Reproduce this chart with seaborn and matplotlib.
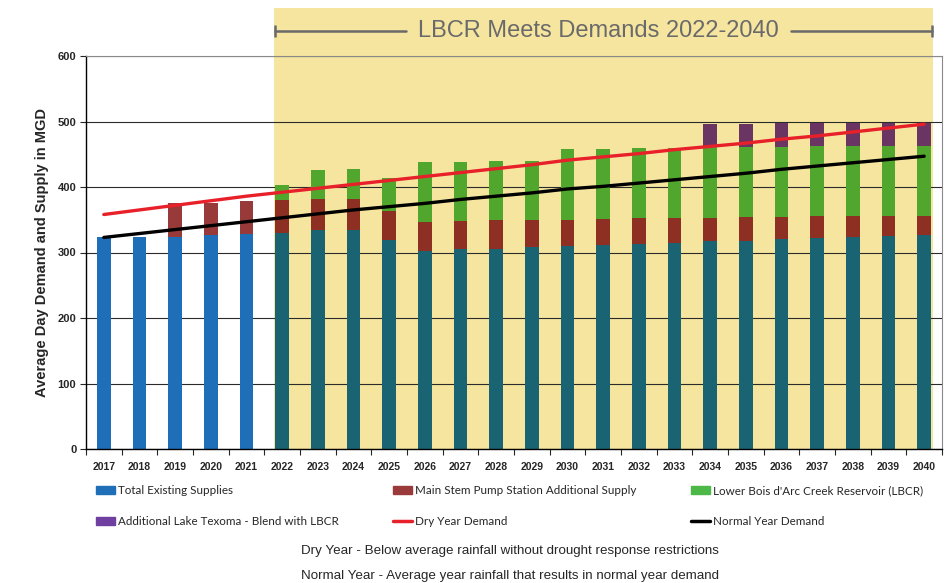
import numpy as np
import pandas as pd
import matplotlib.pyplot as plt
import seaborn as sns
from matplotlib.patches import Patch
from matplotlib.lines import Line2D

# Data (MGD)
years = [str(y) for y in range(2017, 2041)]
existing = [324, 324, 324, 326, 328, 330, 335, 334, 319, 303, 305, 306,
            308, 310, 312, 313, 315, 317, 318, 320, 322, 323, 325, 326]
main_stem = [0, 0, 51, 50, 50, 50, 46, 48, 45, 44, 43, 43,
             42, 40, 39, 39, 37, 36, 36, 34, 33, 32, 31, 30]
lbcr = [0, 0, 0, 0, 0, 23, 45, 45, 49, 91, 90, 90,
        90, 108, 107, 107, 108, 108, 107, 107, 107, 107, 107, 107]
texoma = [0, 0, 0, 0, 0, 0, 0, 0, 0, 0, 0, 0,
          0, 0, 0, 0, 0, 35, 35, 36, 35, 35, 35, 35]
dry_demand = [358, 365, 372, 379, 386, 392, 398, 404, 410, 416, 422, 428,
              434, 441, 446, 451, 457, 462, 467, 473, 478, 484, 490, 496]
normal_demand = [323, 329, 335, 341, 347, 353, 359, 365, 370, 375, 381, 386,
                 391, 397, 401, 406, 411, 416, 421, 427, 432, 437, 442, 447]

df = pd.DataFrame({"year": years, "existing": existing, "main_stem": main_stem,
                   "lbcr": lbcr, "texoma": texoma,
                   "dry": dry_demand, "normal": normal_demand})
df["t1"] = df["existing"]
df["t2"] = df["t1"] + df["main_stem"]
df["t3"] = df["t2"] + df["lbcr"]
df["t4"] = df["t3"] + df["texoma"]

lbcr_start = years.index("2022")
blue, teal = "#1F6FB8", "#1A6373"
red_early, red_late = "#983A3A", "#8E2F24"
green, purple = "#51A72D", "#6A3562"
shade = "#F6E59F"

sns.set_style("white")
plt.rcParams["font.family"] = ["Liberation Sans", "DejaVu Sans"]

fig = plt.figure(figsize=(9.5, 5.83), dpi=100)
ax = fig.add_axes([86 / 950, 1 - 449 / 583, (942 - 86) / 950, (449 - 56) / 583])

# shaded LBCR period, reaching above the plot area
ax.axvspan(4.78, 23.26, ymin=0, ymax=(449 - 8) / 393, color=shade,
           zorder=0.2, clip_on=False, lw=0)

# stacked bars: draw cumulative totals tallest first
w = 0.39
pal_existing = [blue if i < lbcr_start else teal for i in range(len(years))]
pal_main = [red_early if i < lbcr_start else red_late for i in range(len(years))]
bar_kw = dict(width=w, ax=ax, saturation=1, linewidth=0, zorder=2)
sns.barplot(data=df, x="year", y="t4", color=purple, **bar_kw)
sns.barplot(data=df, x="year", y="t3", color=green, **bar_kw)
sns.barplot(data=df, x="year", y="t2", hue="year", palette=pal_main,
            legend=False, **bar_kw)
sns.barplot(data=df, x="year", y="t1", hue="year", palette=pal_existing,
            legend=False, **bar_kw)

x = np.arange(len(years))
sns.lineplot(x=x, y=df["dry"], color="#E8202A", lw=2.4, ax=ax, zorder=4)
sns.lineplot(x=x, y=df["normal"], color="black", lw=2.4, ax=ax, zorder=4)

ax.set_xlim(-0.5, 23.5)
ax.set_ylim(0, 600)
ax.set_yticks(range(0, 601, 100))
ax.set_axisbelow(True)
ax.yaxis.grid(True, color="#2b2b2b", lw=0.8, zorder=0.5)
ax.set_xticks(x)
ax.set_xticklabels(years, fontsize=7.5, fontweight="bold")
ax.set_xticks(np.arange(-0.5, 24, 1), minor=True)
ax.tick_params(axis="x", which="major", length=0, pad=9)
ax.tick_params(axis="x", which="minor", length=4, width=0.8, direction="out", bottom=True)
ax.tick_params(axis="y", length=4, width=0.8, direction="out", left=True, pad=3)
for lab in ax.get_yticklabels():
    lab.set_fontsize(8)
    lab.set_fontweight("bold")
ax.set_xlabel("")
ax.set_ylabel("Average Day Demand and Supply in MGD", fontsize=10.5,
              fontweight="bold", labelpad=6)
for s in ["left", "bottom"]:
    ax.spines[s].set_color("black")
    ax.spines[s].set_linewidth(1.0)
for s in ["top", "right"]:
    ax.spines[s].set_color("#8a8a8a")
    ax.spines[s].set_linewidth(0.8)

# banner
tr = ax.get_xaxis_transform()
yb = (449 - 31) / 393
ax.plot([4.80, 8.46], [yb, yb], color="#6a6a6a", lw=1.8, transform=tr, clip_on=False)
ax.plot([19.27, 23.22], [yb, yb], color="#6a6a6a", lw=1.8, transform=tr, clip_on=False)
ax.plot([4.80, 23.22], [yb, yb], ls="none", marker="|", ms=9, mew=1.8,
        color="#6a6a6a", transform=tr, clip_on=False)
ax.text(13.87, yb, "LBCR Meets Demands 2022-2040", transform=tr, ha="center",
        va="center", fontsize=17, color="#6a6a6a")

# legend, three columns placed by hand
cols = [
    (96 / 950, [Patch(color=blue), Patch(color="#7040A0")],
     ["Total Existing Supplies", "Additional Lake Texoma - Blend with LBCR"]),
    (393 / 950, [Patch(color="#9B3A3A"), Line2D([], [], color="#E8202A", lw=2.5)],
     ["Main Stem Pump Station Additional Supply", "Dry Year Demand"]),
    (691 / 950, [Patch(color="#4CB848"), Line2D([], [], color="black", lw=2.5)],
     ["Lower Bois d'Arc Creek Reservoir (LBCR)", "Normal Year Demand"]),
]
for xpos, handles, labels in cols:
    fig.legend(handles, labels, loc="upper left", bbox_to_anchor=(xpos, 1 - 485 / 583),
               frameon=False, borderpad=0, borderaxespad=0, handlelength=1.6,
               handleheight=0.65, handletextpad=0.3, labelspacing=1.75,
               prop={"family": ["Lato", "DejaVu Sans"], "size": 8.4})

note_font = ["Liberation Sans Narrow", "Liberation Sans", "DejaVu Sans"]
fig.text(510 / 950, 1 - 551 / 583,
         "Dry Year - Below average rainfall without drought response restrictions",
         ha="center", va="center", fontsize=9.6, family=note_font)
fig.text(510 / 950, 1 - 576 / 583,
         "Normal Year - Average year rainfall that results in normal year demand",
         ha="center", va="center", fontsize=9.6, family=note_font)

fig.savefig("out.png", dpi=100)
